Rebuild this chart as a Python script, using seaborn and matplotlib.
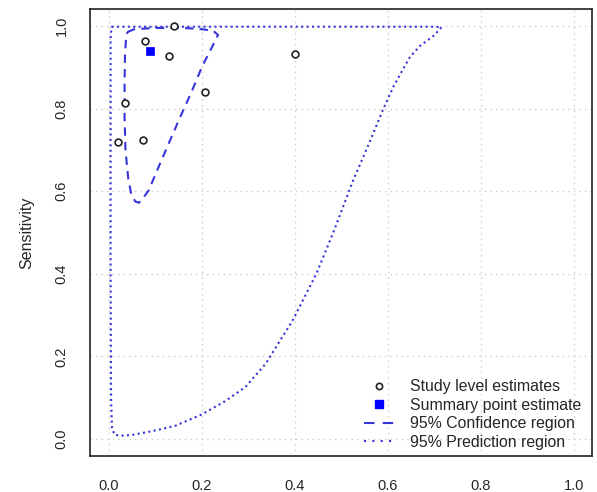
import pandas as pd
import seaborn as sns
import matplotlib.pyplot as plt
from matplotlib.lines import Line2D

# Study level estimates (1 - specificity, sensitivity)
study_fpr = [0.141, 0.077, 0.130, 0.400, 0.207, 0.036, 0.019, 0.074]
study_sens = [1.000, 0.964, 0.928, 0.931, 0.841, 0.813, 0.720, 0.724]

# Summary point
summ_fpr = [0.089]
summ_sens = [0.940]

# 95% confidence region outline
conf_fpr = [0.040, 0.055, 0.100, 0.160, 0.200, 0.225, 0.235, 0.225, 0.201, 0.178,
            0.154, 0.130, 0.107, 0.086, 0.075, 0.065, 0.057, 0.048, 0.042, 0.036,
            0.034, 0.034, 0.035, 0.037, 0.040]
conf_sens = [0.985, 0.992, 0.995, 0.995, 0.992, 0.988, 0.978, 0.955, 0.902, 0.840,
             0.780, 0.718, 0.658, 0.602, 0.585, 0.572, 0.575, 0.595, 0.630, 0.700,
             0.780, 0.860, 0.930, 0.965, 0.985]

# 95% prediction region outline
pred_fpr = [0.006, 0.100, 0.300, 0.500, 0.620, 0.700, 0.716, 0.700, 0.670, 0.648,
            0.630, 0.612, 0.591, 0.569, 0.551, 0.526, 0.504, 0.483, 0.447, 0.396,
            0.338, 0.294, 0.251, 0.201, 0.143, 0.093, 0.050, 0.024, 0.012, 0.007,
            0.005, 0.004, 0.004, 0.004, 0.006]
pred_sens = [0.998, 0.998, 0.998, 0.998, 0.998, 0.998, 0.997, 0.977, 0.952, 0.925,
             0.889, 0.852, 0.800, 0.740, 0.692, 0.627, 0.562, 0.500, 0.401, 0.288,
             0.183, 0.126, 0.092, 0.060, 0.032, 0.019, 0.010, 0.008, 0.011, 0.028,
             0.100, 0.400, 0.800, 0.970, 0.998]

ticks = [0.0, 0.2, 0.4, 0.6, 0.8, 1.0]
tick_labels = ["0.0", "0.2", "0.4", "0.6", "0.8", "1.0"]

sns.set_style("white")
plt.rcParams["font.family"] = ["Liberation Sans", "DejaVu Sans"]

fig = plt.figure(figsize=(5.97, 4.92), dpi=100)
ax = fig.add_axes([0.151, 0.074, 0.841, 0.907])

line_col = "#3535d8"
dash = (0, (4, 3))
dots = (0, (1, 1.6))

conf = pd.DataFrame({"x": conf_fpr, "y": conf_sens})
pred = pd.DataFrame({"x": pred_fpr, "y": pred_sens})
sns.lineplot(data=pred, x="x", y="y", sort=False, estimator=None, ax=ax,
             color=line_col, lw=1.5, linestyle=dots)
sns.lineplot(data=conf, x="x", y="y", sort=False, estimator=None, ax=ax,
             color=line_col, lw=1.5, linestyle=dash)

studies = pd.DataFrame({"x": study_fpr, "y": study_sens})
sns.scatterplot(data=studies, x="x", y="y", ax=ax, marker="o", s=24,
                facecolor="white", edgecolor="#222222", linewidth=1.2, zorder=4)
summ = pd.DataFrame({"x": summ_fpr, "y": summ_sens})
sns.scatterplot(data=summ, x="x", y="y", ax=ax, marker="s", s=34,
                color="blue", edgecolor="blue", linewidth=0.5, zorder=5)

ax.set_xlim(-0.04, 1.04)
ax.set_ylim(-0.04, 1.04)
ax.set_xticks(ticks)
ax.set_xticklabels(tick_labels, fontsize=10.5)
ax.set_yticks(ticks)
ax.set_yticklabels(tick_labels, fontsize=10.5, rotation=90, va="center")
ax.tick_params(direction="out", length=7.5, width=1, color="black")
ax.tick_params(axis="x", pad=9)
ax.tick_params(axis="y", pad=8)
ax.grid(True, color="#cccccc", linestyle=(0, (1, 3)), linewidth=1)
ax.set_axisbelow(True)
for s in ax.spines.values():
    s.set_color("#222222")
    s.set_linewidth(1.2)

ax.set_xlabel("")
ax.set_ylabel("Sensitivity", fontsize=11.5, labelpad=15)

handles = [
    Line2D([], [], marker="o", linestyle="none", markerfacecolor="white",
           markeredgecolor="#222222", markersize=4.5, markeredgewidth=1.2),
    Line2D([], [], marker="s", linestyle="none", color="blue", markersize=5.5),
    Line2D([], [], color=line_col, lw=1.5, linestyle=(0, (5, 4))),
    Line2D([], [], color=line_col, lw=1.5, linestyle=(0, (1, 3))),
]
labels = ["Study level estimates", "Summary point estimate",
          "95% Confidence region", "95% Prediction region"]
ax.legend(handles, labels, loc="lower right", frameon=False, fontsize=11.4,
          handlelength=1.9, handletextpad=1.0, labelspacing=0.22,
          bbox_to_anchor=(1.0, -0.012), borderaxespad=0.3)

fig.savefig("out.png", dpi=100)
